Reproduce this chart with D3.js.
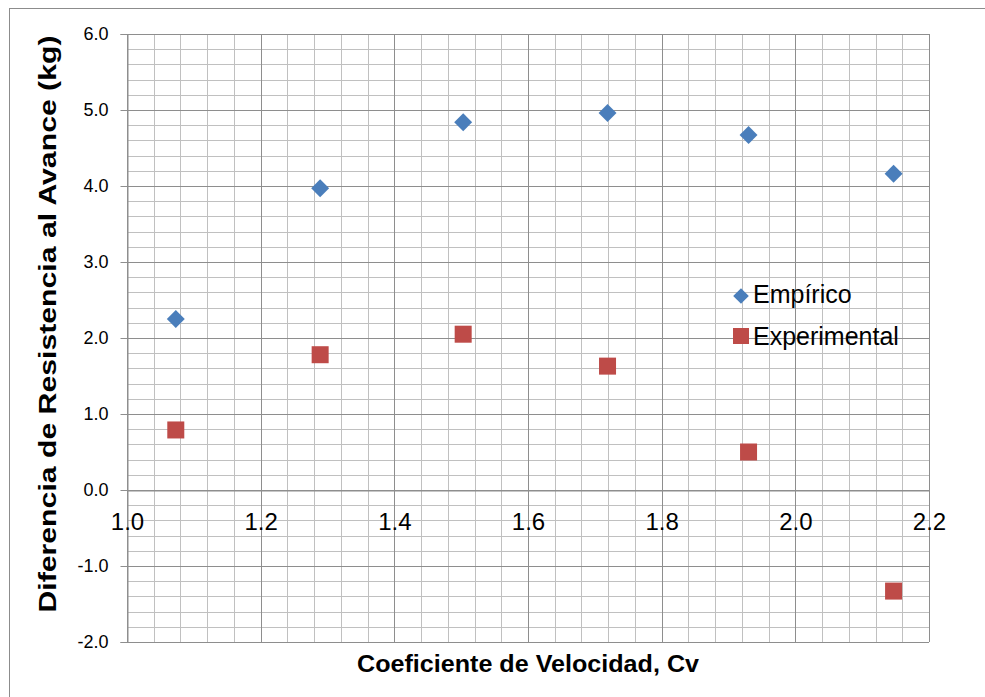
<!DOCTYPE html>
<html>
<head>
<meta charset="utf-8">
<script src="https://d3js.org/d3.v7.min.js"></script>
<style>
  body { margin: 0; background: #fff; }
  svg { display: block; font-family: Arial, "Liberation Sans", sans-serif; }
</style>
</head>
<body>
<div id="chart"></div>
<script>
// datos
const cv = [1.073, 1.289, 1.503, 1.719, 1.930, 2.147];
const empirico = [2.25, 3.97, 4.84, 4.96, 4.67, 4.16];
const experimental = [0.79, 1.78, 2.05, 1.63, 0.50, -1.33];
const xTicks = [1.0, 1.2, 1.4, 1.6, 1.8, 2.0, 2.2];
const yTicks = [-2.0, -1.0, 0.0, 1.0, 2.0, 3.0, 4.0, 5.0, 6.0];
const seriesNames = ["Empírico", "Experimental"];

const width = 985, height = 697;
const m = { left: 127, right: 56, top: 34, bottom: 55 };

const svg = d3.select("#chart").append("svg")
  .attr("width", width).attr("height", height);

// borde del área del gráfico
svg.append("rect")
  .attr("x", 9.5).attr("y", 8.5)
  .attr("width", width).attr("height", height)
  .attr("fill", "none").attr("stroke", "#8c8c8c");

const x = d3.scaleLinear().domain([1.0, 2.2]).range([m.left, width - m.right]);
const y = d3.scaleLinear().domain([-2, 6]).range([height - m.bottom, m.top]);

// cuadrícula secundaria
const xMinor = d3.range(1.0, 2.2001, 0.04);
const yMinor = d3.range(-2, 6.001, 0.2);
const grid = svg.append("g");
grid.selectAll(".vx").data(xMinor).enter().append("line")
  .attr("x1", d => Math.round(x(d)) + 0.5).attr("x2", d => Math.round(x(d)) + 0.5)
  .attr("y1", y(6)).attr("y2", y(-2))
  .attr("stroke", "#c0c0c0").attr("stroke-width", 1);
grid.selectAll(".hy").data(yMinor).enter().append("line")
  .attr("y1", d => Math.round(y(d)) + 0.5).attr("y2", d => Math.round(y(d)) + 0.5)
  .attr("x1", x(1.0)).attr("x2", x(2.2))
  .attr("stroke", "#c0c0c0").attr("stroke-width", 1);

// cuadrícula principal
grid.selectAll(".mx").data(xTicks).enter().append("line")
  .attr("x1", d => Math.round(x(d)) + 0.5).attr("x2", d => Math.round(x(d)) + 0.5)
  .attr("y1", y(6)).attr("y2", y(-2))
  .attr("stroke", "#8e8e8e").attr("stroke-width", 1);
grid.selectAll(".my").data(yTicks).enter().append("line")
  .attr("y1", d => Math.round(y(d)) + 0.5).attr("y2", d => Math.round(y(d)) + 0.5)
  .attr("x1", x(1.0)).attr("x2", x(2.2))
  .attr("stroke", "#8e8e8e").attr("stroke-width", 1);

// eje Y
const yAxis = svg.append("g")
  .attr("transform", `translate(${Math.round(x(1.0)) + 0.5},0)`)
  .call(d3.axisLeft(y).tickValues(yTicks).tickFormat(d3.format(".1f")).tickSize(7).tickPadding(12));
yAxis.select(".domain").attr("stroke", "#8e8e8e");
yAxis.selectAll(".tick line").attr("stroke", "#8e8e8e");
yAxis.selectAll("text").attr("font-size", 18).attr("fill", "#000")
  .text(d => d3.format(".1f")(d).replace("−", "-"));

// eje X en y = 0
const xAxis = svg.append("g")
  .attr("transform", `translate(0,${Math.round(y(0)) + 0.5})`)
  .call(d3.axisBottom(x).tickValues(xTicks).tickFormat(d3.format(".1f")).tickSize(0).tickPadding(22));
xAxis.select(".domain").attr("stroke", "#8e8e8e");
xAxis.selectAll("text").attr("font-size", 24).attr("fill", "#000");

// títulos de ejes
svg.append("text")
  .attr("x", (x(1.0) + x(2.2)) / 2).attr("y", 672)
  .attr("text-anchor", "middle").attr("font-size", 23).attr("font-weight", "bold")
  .attr("textLength", 342).attr("lengthAdjust", "spacingAndGlyphs")
  .text("Coeficiente de Velocidad, Cv");
svg.append("text")
  .attr("transform", "translate(56,324) rotate(-90)")
  .attr("text-anchor", "middle").attr("font-size", 24).attr("font-weight", "bold")
  .attr("textLength", 577).attr("lengthAdjust", "spacingAndGlyphs")
  .text("Diferencia de Resistencia al Avance (kg)");

// series
const blue = "#4a7ebb", red = "#be4b48";
const diamond = d3.symbol().type(d3.symbolDiamond2).size(205);

svg.append("g").selectAll("path").data(cv).enter().append("path")
  .attr("transform", (d, i) => `translate(${x(d)},${y(empirico[i])})`)
  .attr("d", diamond).attr("fill", blue);

svg.append("g").selectAll("rect").data(cv).enter().append("rect")
  .attr("x", d => x(d) - 8.5).attr("y", (d, i) => y(experimental[i]) - 8.5)
  .attr("width", 17).attr("height", 17).attr("fill", red);

// leyenda
const legend = svg.append("g").attr("transform", "translate(741,0)");
legend.append("path").attr("transform", "translate(0,296)")
  .attr("d", d3.symbol().type(d3.symbolDiamond2).size(155)).attr("fill", blue);
legend.append("rect").attr("x", -8).attr("y", 328).attr("width", 16).attr("height", 16).attr("fill", red);
legend.selectAll("text").data(seriesNames).enter().append("text")
  .attr("x", 12).attr("y", (d, i) => 303 + i * 42)
  .attr("font-size", 25).attr("fill", "#000")
  .text(d => d);
</script>
</body>
</html>
